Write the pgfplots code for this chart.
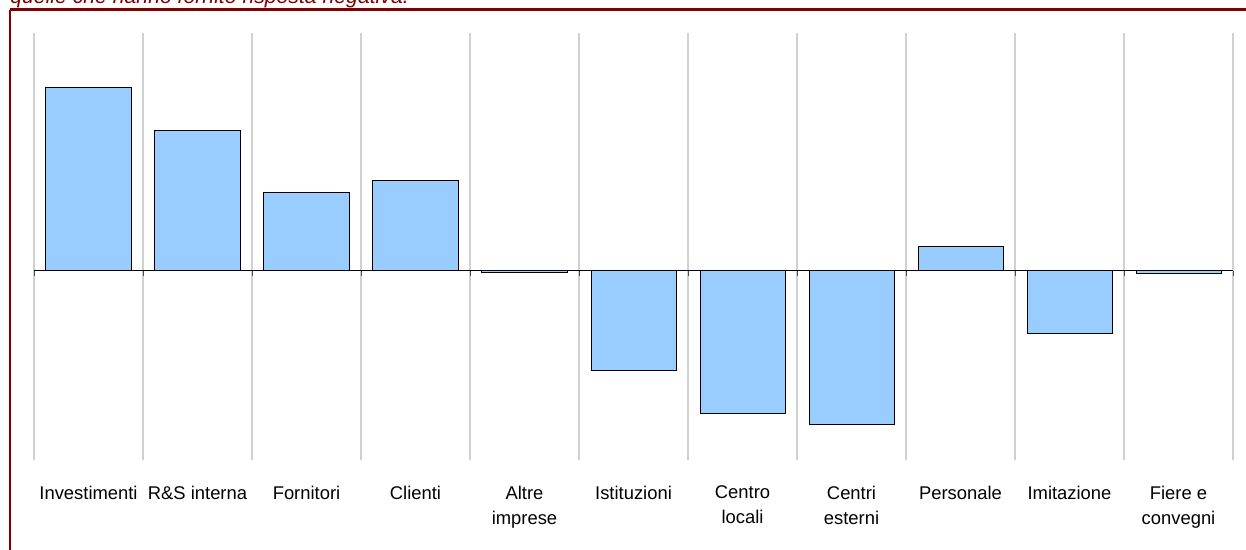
\documentclass[border=0pt]{standalone}
\usepackage{pgfplots}
\pgfplotsset{compat=1.18}
\usepackage{fontspec}
\setmainfont{Liberation Sans}
\definecolor{barblue}{RGB}{153,204,255}
\definecolor{frame}{RGB}{128,0,0}
\definecolor{gridgray}{RGB}{208,208,208}
\pgfplotstableread{
x val
0 183
1 140
2 78
3 90
4 -1.5
5 -100
6 -143
7 -154
8 24
9 -63
10 -3
}\datatable
\begin{document}
\begin{tikzpicture}
\path[use as bounding box] (0pt,0pt) rectangle (623pt,275pt);
\node[anchor=base west, inner sep=0pt, text=frame, font=\fontsize{10.6}{12}\selectfont\itshape] at (5pt,273.2pt) {quelle che hanno fornito risposta negativa.};
\draw[frame, line width=1.35pt] (5pt,270.2pt) -- (630pt,270.2pt);
\draw[frame, line width=1.35pt] (5pt,270.2pt) -- (5pt,-10pt);
\begin{axis}[
  at={(17pt,45pt)}, anchor=south west,
  scale only axis, width=599.5pt, height=213.5pt,
  xmin=-0.5, xmax=10.5, ymin=-189, ymax=238,
  axis line style={draw=none},
  ytick=\empty,
  xtick={0,...,10},
  xticklabels={Investimenti, R\&S interna, Fornitori, Clienti, {Altre\\imprese}, Istituzioni, {Centro\\locali}, {Centri\\esterni}, Personale, Imitazione, {Fiere e\\convegni}},
  xticklabel style={align=center, anchor=north, inner sep=0pt, yshift=-12.8pt, font=\fontsize{9.2}{12.5}\selectfont},
  minor xtick={-0.5,0.5,...,10.5},
  minor x grid style={gridgray, line width=0.7pt},
  xminorgrids=true,
  major tick length=0pt, minor tick length=0pt,
  ybar, bar width=0.78,
  clip=false,
]
\addplot[fill=barblue, draw=black, line width=0.5pt] table[x=x, y=val] {\datatable};
\draw[black, line width=0.5pt] (axis cs:-0.5,0) -- (axis cs:10.5,0);
\pgfplotsinvokeforeach{-0.5,0.5,...,10.5}{
  \draw[black!70, line width=0.5pt] (axis cs:#1,0) -- ++(0pt,-2.5pt);
}
\end{axis}
\end{tikzpicture}
\end{document}
